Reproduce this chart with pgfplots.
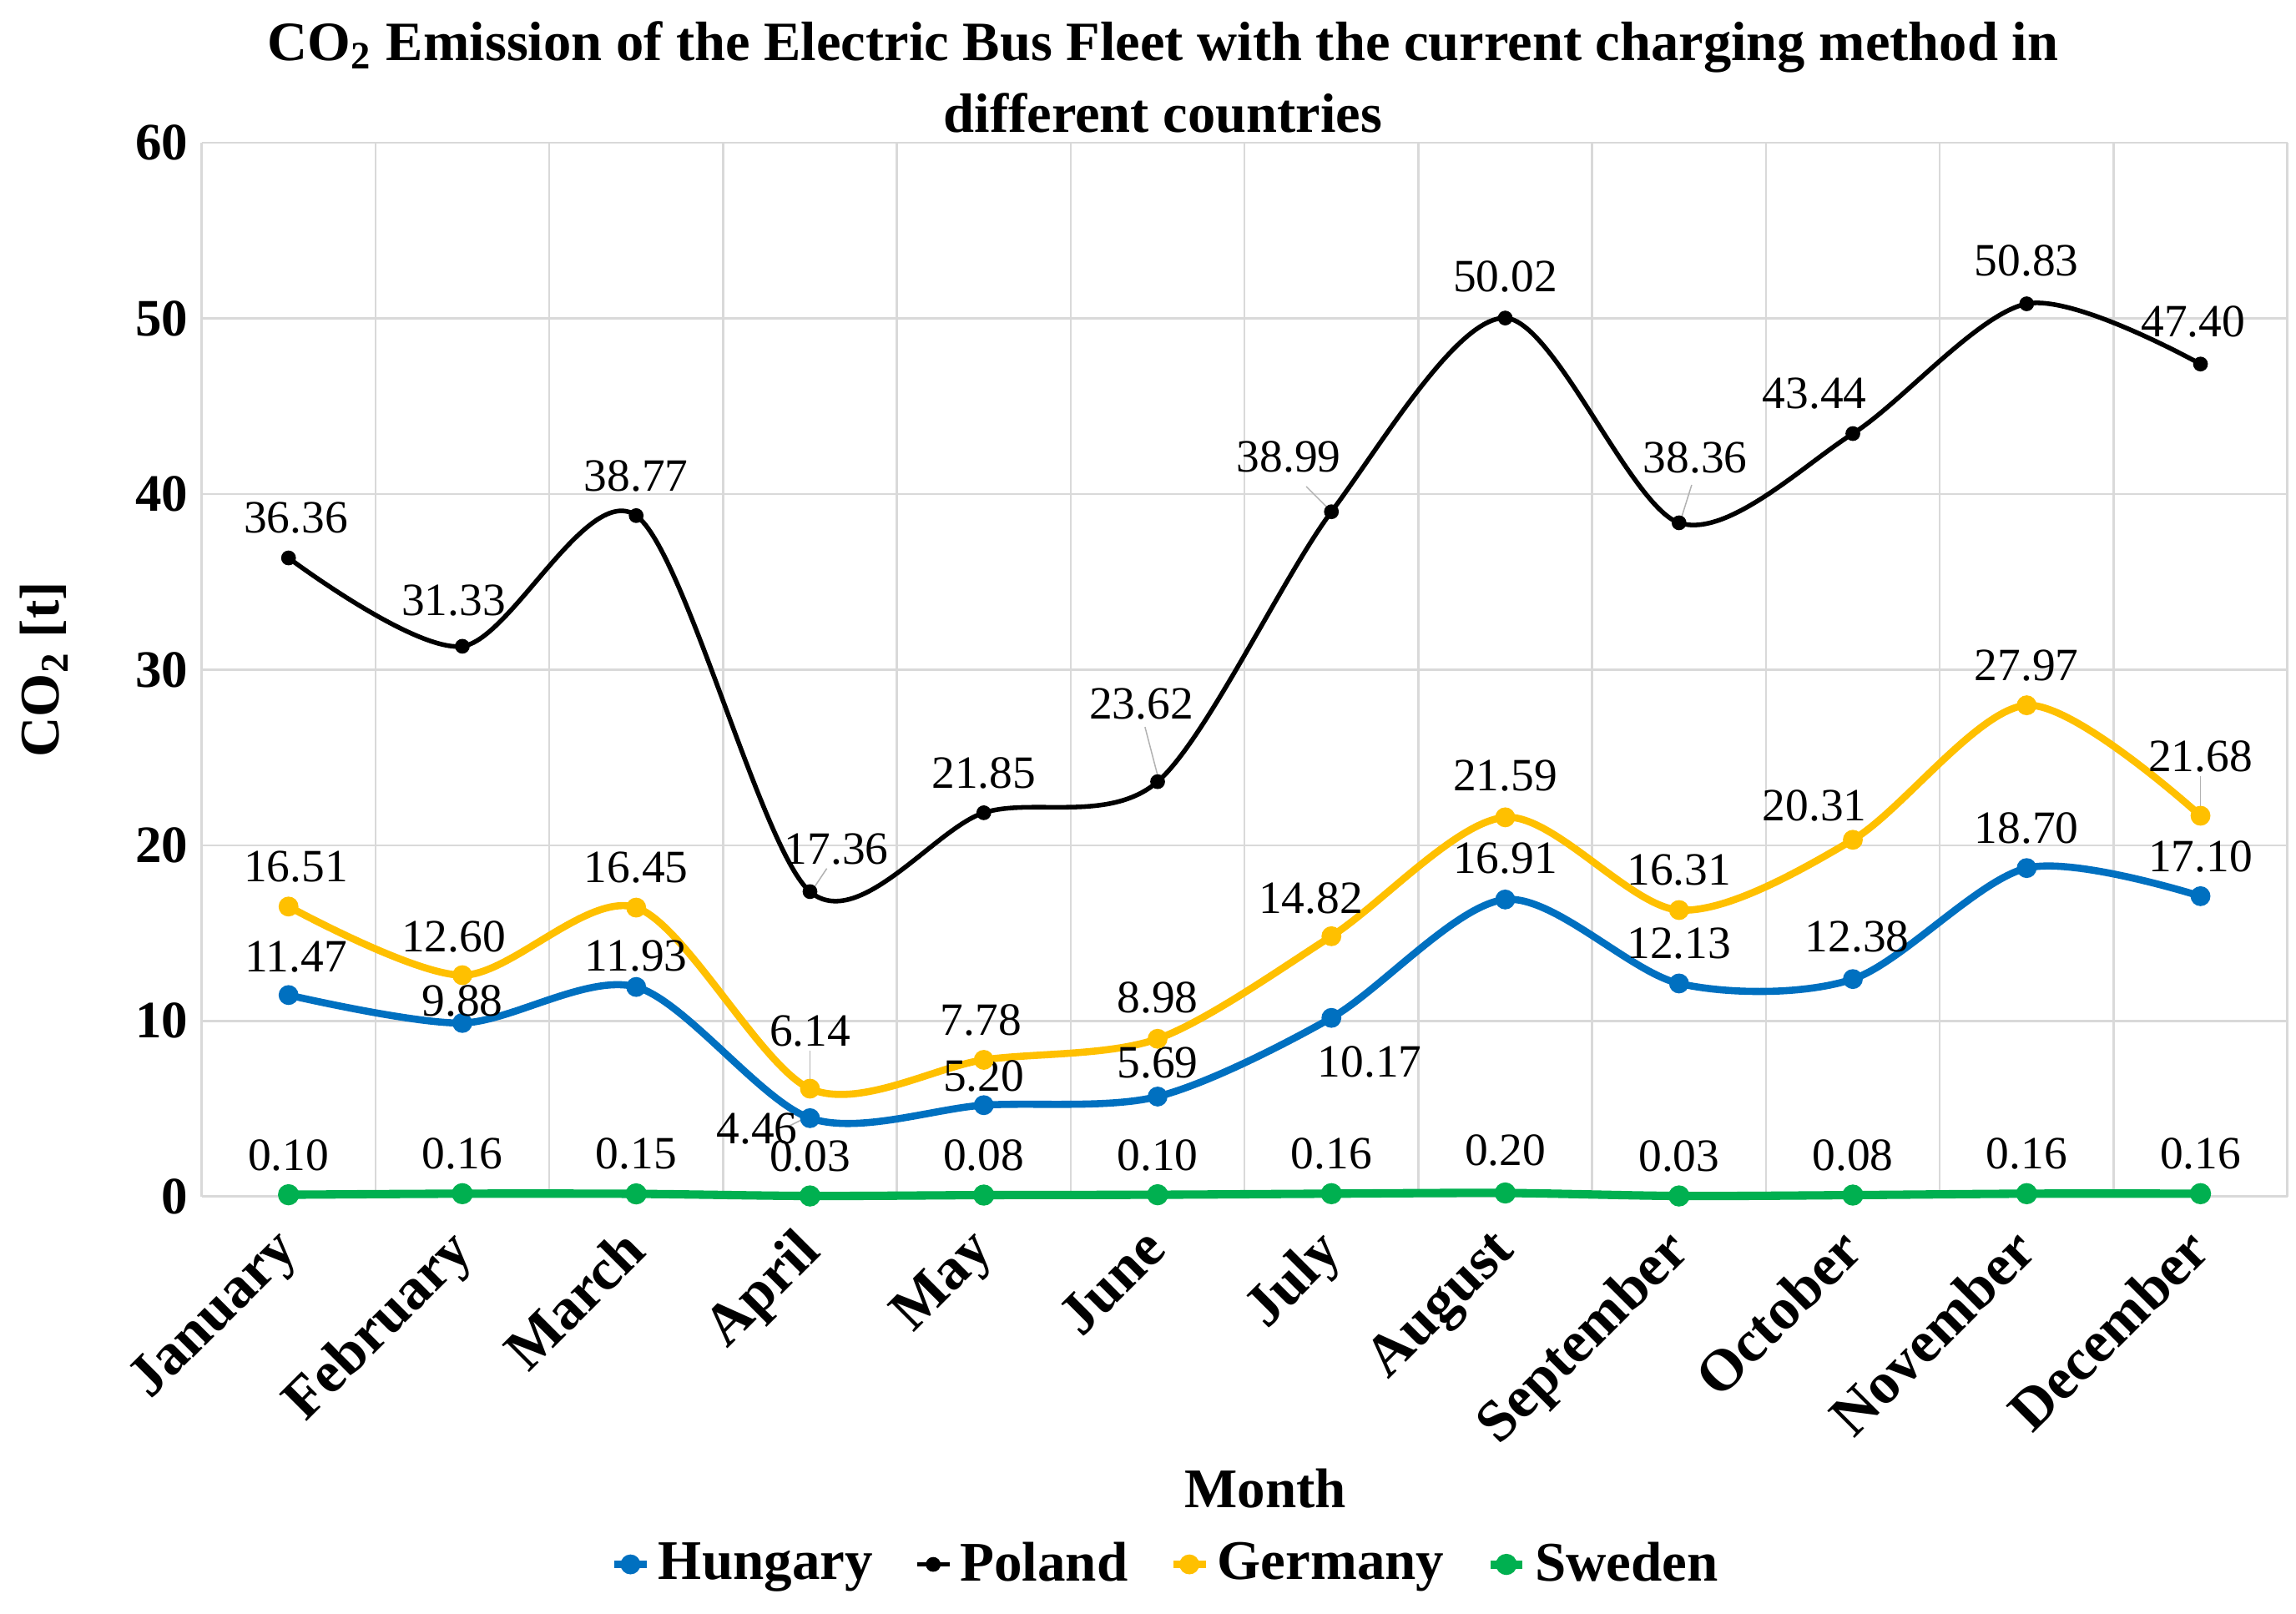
\documentclass[border=0pt]{standalone}
\usepackage{fontspec}
\setmainfont{Liberation Serif}
\usepackage{pgfplots}
\usepackage{pgfplotstable}
\pgfplotsset{compat=1.18}

\definecolor{hun}{HTML}{0070C0}
\definecolor{ger}{HTML}{FFC000}
\definecolor{swe}{HTML}{00B050}
\definecolor{gridgray}{HTML}{D9D9D9}

% x y and the label offset (pt) from the point
\pgfplotstableread{
x y dx dy
0 11.47 1.75 9.1
1 9.88 0 5.25
2 11.93 0 7.35
3 4.46 -12.6 -2.45
4 5.20 0 7
5 5.69 0 8.05
6 10.17 9.1 -10.5
7 16.91 0 9.8
8 12.13 0 9.45
9 12.38 1.05 10.15
10 18.70 0 9.45
11 17.10 0 9.45
}\hungary

\pgfplotstableread{
x y dx dy
0 36.36 1.75 9.45
1 31.33 -2.1 10.85
2 38.77 0 9.45
3 17.36 6.3 10.15
4 21.85 0 9.45
5 23.62 -3.85 18.55
6 38.99 -10.15 12.95
7 50.02 0 9.8
8 38.36 3.85 15.4
9 43.44 -9.1 9.45
10 50.83 0 10.15
11 47.40 -1.75 10.15
}\poland

\pgfplotstableread{
x y dx dy
0 16.51 1.75 9.45
1 12.60 -2.1 9.1
2 16.45 0 9.45
3 6.14 0 13.65
4 7.78 -0.7 9.45
5 8.98 0 9.8
6 14.82 -4.9 9.1
7 21.59 0 9.8
8 16.31 0 9.45
9 20.31 -9.1 8.05
10 27.97 0 9.45
11 21.68 0 14
}\germany

\pgfplotstableread{
x y dx dy
0 0.10 0 9.45
1 0.16 0 9.45
2 0.15 0 9.45
3 0.03 0 9.45
4 0.08 0 9.45
5 0.10 0 9.45
6 0.16 0 9.45
7 0.20 0 10.15
8 0.03 0 9.45
9 0.08 0 9.45
10 0.16 0 9.45
11 0.16 0 9.45
}\sweden

\pgfplotsset{
  series/.style={
    smooth, mark=*, mark size=1.5pt, line width=1.7pt,
    color=#1, mark options={solid, fill=#1, draw=#1},
    visualization depends on={\thisrow{dx} \as \ldx},
    visualization depends on={\thisrow{dy} \as \ldy},
    nodes near coords={\pgfmathprintnumber[fixed, fixed zerofill, precision=2]{\pgfplotspointmeta}},
    every node near coord/.style={
      text=black, anchor=center, inner sep=0pt,
      font=\fontsize{11}{12}\selectfont,
      xshift=\ldx pt, yshift=\ldy pt
    }
  }
}

\begin{document}
\begin{tikzpicture}[leader/.style={draw=gray!60, line width=0.3pt}]
  \useasboundingbox (-47.95pt,-99.1pt) rectangle (498.05pt,284.55pt);
  \begin{axis}[
    scale only axis,
    width=496pt, height=250.6pt,
    xmin=-0.5, xmax=11.5,
    ymin=0, ymax=60,
    ytick={0,10,...,60},
    xtick={0,...,11},
    xticklabels={January,February,March,April,May,June,July,August,September,October,November,December},
    minor xtick={-0.5,0.5,...,11.5},
    xminorgrids=true, ymajorgrids=true,
    grid style={gridgray, line width=0.5pt},
    minor grid style={gridgray, line width=0.5pt},
    axis line style={draw=none},
    major tick length=0pt, minor tick length=0pt,
    clip=false,
    /pgf/number format/assume math mode=true,
    yticklabel style={font=\fontsize{12.5}{14}\selectfont\bfseries, inner sep=0pt, xshift=-3pt},
    xticklabel style={font=\fontsize{14}{16}\selectfont\bfseries, xshift=-4pt, yshift=-6.5pt, rotate=45, anchor=north east, inner sep=0pt},
    legend style={
      at={(230pt,-87.5pt)}, anchor=center, draw=none, fill=none,
      legend columns=4,
      font=\fontsize{13.3}{15}\selectfont\bfseries,
      /tikz/every even column/.append style={column sep=8pt},
      inner sep=0pt
    },
    legend image code/.code={
      \draw[mark repeat=2, mark phase=2] plot coordinates {(0pt,0pt) (3.8pt,0pt) (7.6pt,0pt)};
    },
  ]
    \addplot[series=hun] table[x=x, y=y] {\hungary};
    \addlegendentry{Hungary}
    \addplot[series=black, line width=1.1pt, mark size=1.2pt] table[x=x, y=y] {\poland};
    \addlegendentry{Poland}
    \addplot[series=ger] table[x=x, y=y] {\germany};
    \addlegendentry{Germany}
    \addplot[series=swe, line width=2pt] table[x=x, y=y] {\sweden};
    \addlegendentry{Sweden}
    % leader lines of the moved data labels
    \draw[leader] (axis cs:3,17.36) ++(1pt,1pt) -- ++(3pt,4.5pt);
    \draw[leader] (axis cs:5,23.62) ++(0pt,1.5pt) -- ++(-3pt,11.5pt);
    \draw[leader] (axis cs:6,38.99) ++(-1pt,1pt) -- ++(-5pt,5pt);
    \draw[leader] (axis cs:8,38.36) ++(0.5pt,1pt) -- ++(2.5pt,8pt);
    \draw[leader] (axis cs:3,6.14) ++(0pt,1.5pt) -- ++(0pt,7.5pt);
    \draw[leader] (axis cs:11,21.68) ++(0pt,1.5pt) -- ++(0pt,8pt);
    \draw[leader] (axis cs:3,4.46) ++(-1.2pt,0pt) -- ++(-4pt,-2pt);
  \end{axis}
  \node[align=center, font=\fontsize{13.2}{17}\selectfont\bfseries] at (228.6pt,266.2pt)
    {CO\textsubscript{2} Emission of the Electric Bus Fleet with the current charging method in\\different countries};
  \node[rotate=90, font=\fontsize{13.3}{15}\selectfont\bfseries] at (-37.5pt,125.3pt) {CO\textsubscript{2} [t]};
  \node[font=\fontsize{13.3}{15}\selectfont\bfseries] at (253pt,-69.4pt) {Month};
\end{tikzpicture}
\end{document}
